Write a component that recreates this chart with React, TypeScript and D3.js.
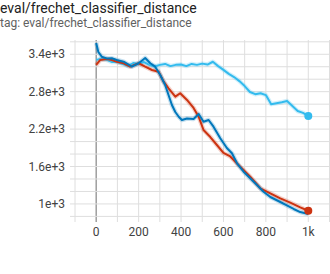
import { useEffect, useRef } from 'react';
import * as d3 from 'd3';

// steps and values
const redSteps = [0, 19, 50, 74, 97, 129, 160, 200, 231, 263, 294, 318, 341, 373, 396, 428, 459, 483, 506, 538, 569, 600, 632, 679, 726, 774, 821, 868, 915, 962, 1000];
const redValues = [3228, 3309, 3325, 3309, 3281, 3256, 3201, 3256, 3201, 3148, 3121, 2960, 2855, 2720, 2775, 2667, 2539, 2399, 2186, 2073, 1945, 1817, 1761, 1597, 1437, 1251, 1170, 1090, 1020, 946, 891];

const blueSteps = [0, 10, 26, 50, 74, 97, 129, 168, 200, 231, 255, 278, 302, 325, 341, 357, 373, 390, 404, 428, 459, 483, 506, 530, 553, 585, 616, 640, 664, 695, 726, 758, 789, 821, 868, 899, 931, 962, 1000];
const blueValues = [3581, 3437, 3361, 3333, 3336, 3309, 3281, 3201, 3256, 3341, 3256, 3201, 3068, 2908, 2747, 2587, 2474, 2394, 2346, 2370, 2362, 2442, 2319, 2346, 2239, 2053, 1897, 1812, 1652, 1517, 1411, 1304, 1196, 1111, 1031, 975, 919, 870, 838];

const cyanSteps = [0, 20, 50, 75, 100, 125, 150, 175, 200, 225, 250, 275, 300, 325, 350, 375, 400, 425, 450, 475, 500, 525, 550, 575, 600, 625, 650, 675, 700, 725, 750, 775, 800, 825, 850, 875, 900, 925, 950, 975, 1000];
const cyanValues = [3310, 3325, 3310, 3275, 3275, 3245, 3210, 3260, 3245, 3275, 3230, 3205, 3230, 3245, 3210, 3230, 3235, 3210, 3245, 3230, 3250, 3235, 3280, 3210, 3150, 3085, 3035, 2970, 2890, 2795, 2760, 2775, 2745, 2600, 2615, 2630, 2650, 2570, 2490, 2460, 2410];

const xTicks = [0, 200, 400, 600, 800, 1000];
const xTickLabels = ['0', '200', '400', '600', '800', '1k'];
const yTicks = [1000, 1600, 2200, 2800, 3400];
const yTickLabels = ['1e+3', '1.6e+3', '2.2e+3', '2.8e+3', '3.4e+3'];

const App = () => {
  const svgRef = useRef(null);

  useEffect(() => {
    const svg = d3.select(svgRef.current);
    svg.selectAll('*').remove();

    const width = 330;
    const height = 274;
    svg.attr('width', width).attr('height', height);

    const x = d3.scaleLinear().domain([-100, 1100]).range([75, 329.5]);
    const y = d3.scaleLinear().domain([800, 3600]).range([216.4, 41.8]);
    const plotTop = 40;

    svg.append('text')
      .attr('x', 0).attr('y', 13)
      .attr('font-family', 'Roboto').attr('font-size', 14)
      .attr('fill', '#212121')
      .text('eval/frechet_classifier_distance');

    svg.append('text')
      .attr('x', 0).attr('y', 27)
      .attr('font-family', 'Roboto').attr('font-size', 12)
      .attr('fill', '#616161')
      .text('tag: eval/frechet_classifier_distance');

    // grid
    const grid = svg.append('g');
    grid.selectAll('line.v')
      .data(d3.range(-100, 1101, 100))
      .enter().append('line')
      .attr('x1', d => x(d)).attr('x2', d => x(d))
      .attr('y1', plotTop).attr('y2', 222)
      .attr('stroke', d => d === 0 ? '#9e9e9e' : '#dedede')
      .attr('stroke-width', d => d === 0 ? 1.5 : 1);

    grid.selectAll('line.h')
      .data(d3.range(800, 3601, 200))
      .enter().append('line')
      .attr('x1', 70).attr('x2', width)
      .attr('y1', d => y(d)).attr('y2', d => y(d))
      .attr('stroke', '#dedede');

    svg.selectAll('text.xl')
      .data(xTicks)
      .enter().append('text')
      .attr('x', d => x(d)).attr('y', 236)
      .attr('text-anchor', 'middle')
      .attr('font-family', 'Roboto').attr('font-size', 12)
      .attr('fill', '#424242')
      .text((d, i) => xTickLabels[i]);

    svg.selectAll('text.yl')
      .data(yTicks)
      .enter().append('text')
      .attr('x', 65).attr('y', d => y(d))
      .attr('dy', '0.35em')
      .attr('text-anchor', 'end')
      .attr('font-family', 'Roboto').attr('font-size', 12)
      .attr('fill', '#424242')
      .text((d, i) => yTickLabels[i]);

    const line = d3.line<[number, number]>()
      .x(d => x(d[0]))
      .y(d => y(d[1]))
      .curve(d3.curveLinear);

    const series = [
      { steps: cyanSteps, values: cyanValues, color: '#33bbee', dot: true },
      { steps: redSteps, values: redValues, color: '#cc3311', dot: true },
      { steps: blueSteps, values: blueValues, color: '#0077bb', dot: false },
    ];

    const lines = svg.append('g');
    series.forEach(s => {
      const pts = s.steps.map((st, i) => [st, s.values[i]] as [number, number]);
      lines.append('path')
        .attr('d', line(pts))
        .attr('fill', 'none')
        .attr('stroke', s.color)
        .attr('stroke-opacity', 0.22)
        .attr('stroke-width', 4.5)
        .attr('stroke-linejoin', 'round');
    });
    series.forEach(s => {
      const pts = s.steps.map((st, i) => [st, s.values[i]] as [number, number]);
      lines.append('path')
        .attr('d', line(pts))
        .attr('fill', 'none')
        .attr('stroke', s.color)
        .attr('stroke-width', 2)
        .attr('stroke-linejoin', 'round');
    });
    series.filter(s => s.dot).forEach(s => {
      const n = s.steps.length - 1;
      lines.append('circle')
        .attr('cx', x(s.steps[n])).attr('cy', y(s.values[n]))
        .attr('r', 4)
        .attr('fill', s.color);
    });
  }, []);

  return (
    <svg ref={svgRef} style={{ position: 'absolute', left: 0, top: 0 }}></svg>
  );
};

export default App;
